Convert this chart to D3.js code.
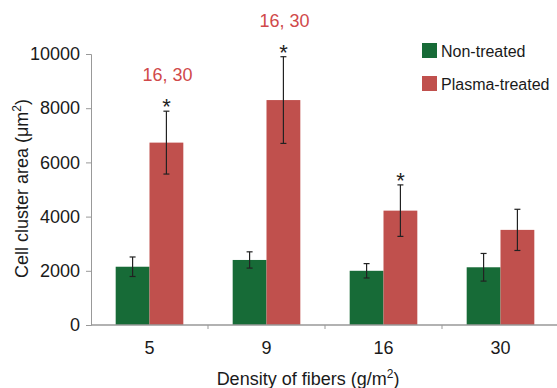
<!DOCTYPE html>
<html>
<head>
    <script src="https://cdnjs.cloudflare.com/ajax/libs/d3/7.8.5/d3.min.js"></script>
    <style>
        body { margin: 0; padding: 0; background: white; }
        svg text { font-family: "Liberation Sans", Arial, sans-serif; }
    </style>
</head>
<body>
    <svg id="chart" width="557" height="388"></svg>
    <script>
        // Data
        const densities = ['5', '9', '16', '30'];
        const series = ['Non-treated', 'Plasma-treated'];
        const nonTreated = [2150, 2400, 2000, 2130];
        const nonTreatedErr = [360, 300, 265, 510];
        const plasmaTreated = [6730, 8300, 4220, 3510];
        const plasmaTreatedErr = [1160, 1600, 950, 760];
        const significant = [true, true, true, false];
        const annotations = ['16, 30', '16, 30', '', ''];
        const yTicks = [0, 2000, 4000, 6000, 8000, 10000];

        const colors = ['#176b37', '#c0504d'];

        const svg = d3.select('#chart');
        const margin = { left: 91, right: 0, top: 54, bottom: 63 };
        const width = 557, height = 388;

        const x = d3.scaleBand()
            .domain(densities)
            .range([margin.left, 91 + 117 * 4]);

        const xInner = d3.scaleBand()
            .domain(series)
            .range([0, x.bandwidth()])
            .paddingOuter(0.73)
            .paddingInner(0);

        const y = d3.scaleLinear()
            .domain([0, 10000])
            .range([height - margin.bottom, margin.top]);

        const rows = densities.map((d, i) => ({
            density: d,
            values: [
                { key: series[0], value: nonTreated[i], err: nonTreatedErr[i] },
                { key: series[1], value: plasmaTreated[i], err: plasmaTreatedErr[i] }
            ],
            sig: significant[i],
            note: annotations[i]
        }));

        // Bars
        const groups = svg.append('g')
            .selectAll('g')
            .data(rows)
            .join('g')
            .attr('transform', d => `translate(${x(d.density)},0)`);

        groups.selectAll('rect')
            .data(d => d.values)
            .join('rect')
            .attr('x', d => xInner(d.key))
            .attr('y', d => y(d.value))
            .attr('width', xInner.bandwidth())
            .attr('height', d => y(0) - y(d.value))
            .attr('fill', (d, i) => colors[i]);

        // Error bars
        const errs = groups.selectAll('g.err')
            .data(d => d.values)
            .join('g')
            .attr('class', 'err')
            .attr('stroke', '#222')
            .attr('stroke-width', 1.2);

        const cx = d => xInner(d.key) + xInner.bandwidth() / 2;
        errs.append('line')
            .attr('x1', cx).attr('x2', cx)
            .attr('y1', d => y(d.value + d.err))
            .attr('y2', d => y(d.value - d.err));
        errs.append('line')
            .attr('x1', d => cx(d) - 3).attr('x2', d => cx(d) + 3)
            .attr('y1', d => y(d.value + d.err))
            .attr('y2', d => y(d.value + d.err));
        errs.append('line')
            .attr('x1', d => cx(d) - 3).attr('x2', d => cx(d) + 3)
            .attr('y1', d => y(d.value - d.err))
            .attr('y2', d => y(d.value - d.err));

        // Significance stars
        groups.filter(d => d.sig)
            .append('text')
            .attr('x', d => cx(d.values[1]))
            .attr('y', d => y(d.values[1].value + d.values[1].err) + 3)
            .attr('text-anchor', 'middle')
            .attr('font-size', '22px')
            .attr('fill', '#222')
            .text('*');

        // Red annotations
        groups.filter(d => d.note)
            .append('text')
            .attr('x', d => cx(d.values[1]) + 1)
            .attr('y', d => y(d.values[1].value + d.values[1].err) - 30)
            .attr('text-anchor', 'middle')
            .attr('font-size', '18px')
            .attr('fill', '#d0494a')
            .text(d => d.note);

        // Axes
        const yAxis = svg.append('g')
            .attr('transform', `translate(${margin.left},0)`)
            .call(d3.axisLeft(y).tickValues(yTicks).tickSize(5).tickPadding(6).tickFormat(d3.format('d')));
        yAxis.select('.domain').attr('stroke', '#999');
        yAxis.selectAll('.tick line').attr('stroke', '#999');
        yAxis.selectAll('.tick text')
            .attr('font-size', '18px')
            .attr('fill', '#1a1a1a');

        const xAxis = svg.append('g')
            .attr('transform', `translate(0,${y(0)})`)
            .call(d3.axisBottom(x).tickSize(0).tickPadding(16));
        xAxis.select('.domain').attr('stroke', '#999').attr('stroke-width', 1.5)
            .attr('d', `M${margin.left},0H${width}`);
        xAxis.selectAll('.tick text')
            .attr('font-size', '18px')
            .attr('fill', '#1a1a1a');
        // category separators
        xAxis.selectAll('.sep')
            .data(densities.slice(1))
            .join('line')
            .attr('class', 'sep')
            .attr('x1', d => x(d)).attr('x2', d => x(d))
            .attr('y1', 0).attr('y2', 4)
            .attr('stroke', '#999');

        // Axis titles
        const yTitle = svg.append('text')
            .attr('transform', `translate(28,${(y(0) + y(10000)) / 2 - 1}) rotate(-90)`)
            .attr('text-anchor', 'middle')
            .attr('font-size', '18px')
            .attr('fill', '#1a1a1a');
        yTitle.append('tspan').text('Cell cluster area (μm');
        yTitle.append('tspan').attr('font-size', '12px').attr('dy', '-7').text('2');
        yTitle.append('tspan').attr('dy', '7').text(')');

        const xTitle = svg.append('text')
            .attr('x', 308)
            .attr('y', 385)
            .attr('text-anchor', 'middle')
            .attr('font-size', '18px')
            .attr('fill', '#1a1a1a');
        xTitle.append('tspan').text('Density of fibers (g/m');
        xTitle.append('tspan').attr('font-size', '12px').attr('dy', '-7').text('2');
        xTitle.append('tspan').attr('dy', '7').text(')');

        // Legend
        const legend = svg.append('g')
            .selectAll('g')
            .data(series)
            .join('g')
            .attr('transform', (d, i) => `translate(422,${43 + i * 33})`);
        legend.append('rect')
            .attr('width', 15).attr('height', 15)
            .attr('fill', (d, i) => colors[i]);
        legend.append('text')
            .attr('x', 19)
            .attr('y', 8)
            .attr('dy', '0.35em')
            .attr('font-size', '16px')
            .attr('fill', '#1a1a1a')
            .text(d => d);
    </script>
</body>
</html>
